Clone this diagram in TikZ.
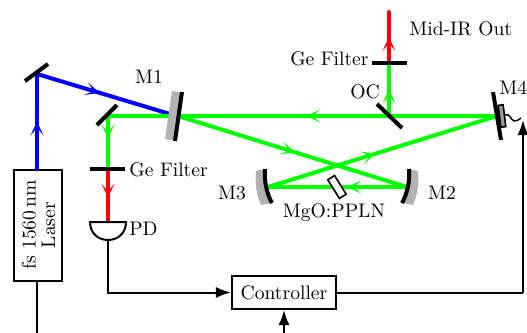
\documentclass[tikz,border=0pt]{standalone}
\usepackage{tikz}
\usetikzlibrary{arrows.meta, decorations.markings, positioning}
\definecolor{pumpblue}{RGB}{0,0,255}
\definecolor{signalgreen}{RGB}{0,255,0}
\definecolor{idlerred}{RGB}{255,0,0}
\tikzset{
  >=Latex,
  every node/.style={font=\fontsize{9.8}{9.8}\selectfont,inner sep=0},
  % Fasci laser
  beam/.style={line width=2pt,line cap=round},
  beam pump/.style={beam,pumpblue},
  beam signal/.style={beam,signalgreen},
  beam idler/.style={beam,idlerred},
  beam tip/.style={postaction={decorate,decoration={markings,
    mark=at position #1 with {\arrow{Stealth[length=7pt,width=6.5pt,inset=4pt]}}}}},
  % Ottica
  mirror/.style={line width=2pt,black},
  backing/.style={fill=black!30,draw=none},
  filter/.style={line width=2pt,black},
  % Elettronica
  box/.style={draw,line width=1pt,fill=white},
  wire/.style={line width=1pt,black},
  wire arrow/.style={wire,-{Latex[length=7.5pt,width=5.5pt]}}
}
\begin{document}
\begin{tikzpicture}[x=0.5pt,y=-0.5pt]
    \useasboundingbox (0,0) rectangle (527,333);
    % punti dei fasci
    \coordinate (steer) at (37,74);
    \coordinate (pump end) at (170,114);
    \coordinate (m1) at (178,116);
    \coordinate (pick) at (108,116);
    \coordinate (oc) at (389,116);
    \coordinate (m4) at (497,116);
    \coordinate (m2) at (407,187);
    \coordinate (m3) at (268,187);
    \coordinate (filter in) at (108,169);
    \coordinate (filter out) at (389,63);
    \coordinate (out) at (389,12);
    \coordinate (pd top) at (108,222);
    \coordinate (pd bottom) at (108,240);
    \coordinate (feed) at (523,293);
    \coordinate (feed end) at (523,120);
    \coordinate (laser in) at (37,333);
    \coordinate (ctrl in) at (284,333);
    % scatole
    \node[box,minimum width=24pt,minimum height=55.5pt] (laser) at (38,225.5) {};
    \node[rotate=90,align=center] (laser text) at (38.5,225) {fs 1560\,nm\\Laser};
    \node[box,minimum width=52pt,minimum height=16.5pt] (ctrl) at (284,292.5) {Controller};
    % pompa
    \draw[beam pump,beam tip=0.5] (laser.north -| steer) -- (steer);
    \draw[beam pump,beam tip=0.47] (steer) -- (pump end);
    % cavita
    \draw[beam signal,beam tip=0.49] (m4) -- (pick);
    \draw[beam signal,beam tip=0.51] (m1) -- (m2);
    \draw[beam signal,beam tip=0.43] (m2) -- (m3);
    \draw[beam signal,beam tip=0.47] (m3) -- (m4);
    \draw[beam signal,beam tip=0.5] (oc) -- (filter out);
    \draw[beam signal,beam tip=0.42] (pick) -- (filter in);
    % idler
    \draw[beam idler,beam tip=0.51] (filter out) -- (out);
    \draw[beam idler,beam tip=0.54] (filter in) -- (pd top);
    % specchi
    \fill[backing] (172,91) -- (183,93) -- (176,141) -- (165,139) -- cycle;
    \draw[mirror] (182,92) -- (175,141);
    \draw[mirror] (25,81) -- (48,64);
    \draw[mirror] (97,125) -- (117,105);
    \draw[mirror] (377,104) -- (402,128);
    \draw[mirror] (493,92) -- (501,140);
    \fill[backing] (256,171) -- (265,169) .. controls (264,182) and (267,194) .. (272,203)
      -- (261,205) .. controls (256,194) and (255,182) .. (256,171);
    \draw[mirror] (265,169) .. controls (264,182) and (267,194) .. (272,203);
    \fill[backing] (418,171) -- (409,169) .. controls (410,182) and (407,194) .. (402,203)
      -- (413,205) .. controls (418,194) and (419,182) .. (418,171);
    \draw[mirror] (409,169) .. controls (410,182) and (407,194) .. (402,203);
    % filtri
    \draw[filter] (372,63) -- (407,63);
    \draw[filter] (90,169) -- (125,169);
    % cristallo e piezo
    \node[draw,line width=0.8pt,fill=white,minimum width=11pt,minimum height=4pt,rotate=-58] (ppln) at (337,187) {};
    \node[draw,line width=0.8pt,fill=black!40,minimum width=11pt,minimum height=2.5pt,rotate=-83] (piezo) at (502,116) {};
    % fotodiodo
    \draw[wire,fill=white] (90,222) -- (126,222) .. controls (126,233) and (118,240) .. (pd bottom)
      .. controls (98,240) and (90,233) .. (90,222) -- cycle;
    % collegamenti
    \draw[wire] (laser.south -| laser in) -- (laser in);
    \draw[wire arrow] (pd bottom) |- (ctrl.west);
    \draw[wire arrow] (ctrl.east) -| (feed) -- (feed end);
    \draw[wire arrow] (ctrl in) -- (ctrl.south);
    \draw[line width=0.7pt] (piezo.center) ++(3,-1) .. controls (510,113) and (510,119) .. (514,121) .. controls (517,122) and (519,119) .. (521,118);
    % etichette
    \node (m1 label) at (149,77) {M1};
    \node (m2 label) at (442,193) {M2};
    \node (m3 label) at (232,193) {M3};
    \node[anchor=west] (m4 label) at (499,88) {M4};
    \node (oc label) at (365,92) {OC};
    \node[anchor=east] (filter top) at (369,59) {Ge Filter};
    \node[anchor=west] (filter low) at (129,170) {Ge Filter};
    \node[anchor=west] (pd label) at (129,229) {PD};
    \node (ppln label) at (334,213) {MgO:PPLN};
    \node[anchor=west] (out label) at (409,29) {Mid-IR Out};
\end{tikzpicture}
\end{document}
